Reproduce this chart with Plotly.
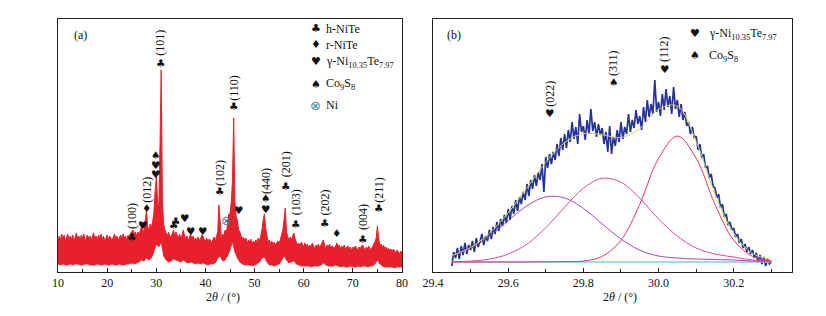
import plotly.graph_objects as go

# ---------------- Panel (a): XRD pattern 10-80 deg ----------------
a_start, a_step_u, a_step_l = 10.0, 0.25, 0.5
# upper edge of the noisy red trace (px-like intensity units, 0..253)
a_upper = [
    30, 36, 32, 38, 33, 37, 31, 35, 38, 32, 36, 33, 37, 31, 35, 39,
    33, 36, 32, 37, 34, 38, 31, 35, 37, 33, 36, 32, 35, 39, 33, 36,
    32, 37, 34, 38, 33, 36, 31, 35, 37, 32, 36, 34, 31, 35, 38, 33,
    36, 32, 35, 37, 33, 38, 34, 36, 32, 37, 35, 39, 40, 42, 38, 40,
    36, 40, 37, 41, 46, 40, 42, 50, 62, 45, 42, 48, 44, 50, 58, 80,
    95, 72, 62, 125, 202, 70, 48, 42, 38, 36, 40, 35, 36, 38, 42, 36,
    40, 37, 34, 38, 33, 37, 42, 36, 33, 36, 31, 35, 38, 33, 36, 32,
    34, 31, 35, 32, 33, 37, 36, 32, 31, 34, 30, 33, 32, 29, 33, 35,
    31, 36, 40, 67, 45, 33, 38, 36, 42, 38, 48, 58, 58, 70, 90, 154,
    70, 55, 52, 42, 40, 36, 33, 35, 31, 34, 29, 32, 30, 33, 28, 31,
    29, 32, 30, 34, 31, 36, 42, 52, 58, 44, 34, 30, 32, 28, 31, 27,
    30, 27, 29, 31, 28, 33, 36, 42, 52, 64, 40, 34, 31, 35, 32, 36,
    39, 33, 30, 27, 29, 26, 30, 27, 25, 29, 26, 28, 24, 27, 25, 29,
    26, 23, 27, 25, 28, 24, 27, 30, 32, 26, 24, 27, 25, 28, 24, 26,
    25, 24, 26, 29, 25, 27, 23, 26, 24, 27, 23, 25, 26, 23, 25, 22,
    25, 23, 26, 24, 22, 25, 23, 26, 27, 24, 22, 25, 23, 26, 22, 24,
    25, 28, 30, 34, 46, 33, 26, 28, 24, 27, 23, 25, 22, 24, 21, 23,
    20, 23, 21, 19, 22, 20, 18, 21, 19,
]
# lower edge of the noisy red trace
a_lower = [
    8, 7, 8, 7, 7, 8, 7, 8, 8, 7, 7, 8, 8, 7, 7, 7, 8, 7, 7, 8,
    7, 7, 8, 7, 7, 8, 7, 7, 8, 8, 9, 8, 9, 10, 12, 11, 14, 12, 14, 20,
    28, 25, 30, 16, 12, 10, 11, 13, 12, 11, 10, 12, 10, 9, 10, 9, 8, 9, 8, 9,
    8, 7, 8, 8, 9, 14, 16, 11, 12, 16, 22, 30, 20, 14, 10, 8, 7, 7, 7, 6,
    7, 8, 10, 14, 15, 10, 7, 7, 6, 7, 8, 12, 16, 12, 9, 10, 11, 8, 7, 6,
    6, 6, 6, 5, 6, 6, 6, 7, 9, 7, 6, 6, 6, 7, 6, 5, 6, 5, 5, 6,
    5, 5, 6, 5, 6, 6, 5, 6, 6, 8, 12, 8, 6, 5, 5, 5, 5, 4, 5, 5, 5,
]
a_x_upper = [round(a_start + a_step_u * i, 2) for i in range(len(a_upper))]
a_x_lower = [round(a_start + a_step_l * i, 2) for i in range(len(a_lower))]

# hkl labels (rotated) for panel (a)
a_lab_x = [25.04, 27.96, 30.8, 42.86, 45.65, 52.24, 56.33, 58.37, 64.15, 71.97, 75.17]
a_lab_y = [56, 82.5, 229.5, 99.5, 184.5, 90.5, 107.5, 69.5, 69.5, 54.5, 82.5]
a_lab_t = ["(100)", "(012)", "(101)", "(102)", "(110)", "(440)", "(201)", "(103)", "(202)", "(004)", "(211)"]
# phase symbols for panel (a)
a_sym_x = [25.04, 27.96, 27.2, 29.86, 29.9, 29.75, 30.9, 33.5, 34.0, 35.75, 36.9, 39.5,
           42.86, 44.3, 46.8, 45.65, 52.24, 52.2, 56.33, 58.37, 64.15, 66.7, 71.97, 75.17]
a_sym_y = [35, 64, 47, 117, 107, 98, 209, 47, 51, 54, 41, 41,
           81, 52, 62, 166, 74, 63, 86, 48, 49, 39, 33, 64]
a_sym_c = ["♣", "♦", "♥", "♠", "♥", "♥", "♣", "♣", "♣", "♥", "♥", "♥",
           "♣", "⊗", "♥", "♣", "♠", "♥", "♣", "♣", "♣", "♦", "♣", "♣"]

a_leg_sym = ["♣", "♦", "♥", "♠", "⊗"]
a_leg_txt = ["h-NiTe", "r-NiTe", "γ-Ni<sub>10.35</sub>Te<sub>7.97</sub>", "Co<sub>9</sub>S<sub>8</sub>", "Ni"]
a_leg_y = [243, 227, 210, 188, 167]

# ---------------- Panel (b): 29.4-30.35 deg fit ----------------
b_start, b_step = 29.45, 0.005
b_data = [
    6, 20, 14, 24, 13, 26, 17, 29, 18, 27,
    22, 31, 20, 34, 25, 30, 38, 27, 36, 31,
    42, 33, 45, 38, 50, 41, 53, 46, 57, 49,
    63, 52, 66, 58, 72, 61, 75, 68, 80, 72,
    88, 76, 92, 83, 97, 86, 100, 92, 108, 80,
    115, 104, 118, 108, 120, 112, 128, 116, 134, 122,
    138, 124, 142, 130, 150, 133, 145, 128, 158, 140,
    146, 132, 152, 138, 163, 141, 150, 135, 148, 137,
    144, 128, 140, 120, 146, 118, 135, 126, 142, 130,
    150, 133, 145, 138, 158, 140, 152, 144, 162, 148,
    156, 142, 165, 150, 172, 155, 168, 158, 192, 160,
    170, 156, 178, 162, 183, 165, 176, 158, 185, 163,
    172, 155, 168, 152, 160, 146, 150, 138, 145, 134,
    136, 122, 128, 114, 118, 104, 106, 94, 98, 86,
    84, 74, 78, 64, 68, 55, 58, 47, 50, 42,
    44, 35, 38, 29, 33, 24, 28, 20, 25, 18,
    22, 14, 19, 10, 17, 8, 15, 6, 13, 8,
    10,
]
b_x_data = [round(b_start + b_step * i, 3) for i in range(len(b_data))]

b_x_fit = [29.45, 29.50, 29.55, 29.60, 29.65, 29.70, 29.75, 29.80, 29.85,
           29.90, 29.95, 30.00, 30.05, 30.10, 30.15, 30.20, 30.25, 30.30]
b_baseline = [10, 10, 10, 10, 10, 10, 10, 10, 10, 10, 10, 10, 10, 10, 10, 10, 10, 10]
b_peak1 = [6.2, 13.7, 25.8, 41.3, 56.3, 65.1, 64.1, 53.6, 38.1, 23.0, 11.8, 6, 4, 3, 2.5, 2, 1, 0.5]
b_peak2 = [0.2, 0.9, 2.9, 7.9, 17.9, 34.2, 54.8, 73.8, 83.7, 79.7, 63.8, 43, 26, 14, 8, 5, 2, 1]
b_peak3 = [0, 0, 0, 0, 0, 0.2, 0.4, 1, 5.5, 21.7, 57.7, 103.7, 126, 103.7, 57.7, 21.7, 5.5, 1]

b_lab_x = [29.709, 29.88, 30.016]
b_lab_y = [178.5, 209.5, 222.5]
b_lab_t = ["(022)", "(311)", "(112)"]
b_sym_x = [29.709, 29.88, 30.016]
b_sym_y = [159, 190, 203]
b_sym_c = ["♥", "♠", "♥"]
b_leg_sym = ["♥", "♠"]
b_leg_txt = ["γ-Ni<sub>10.35</sub>Te<sub>7.97</sub>", "Co<sub>9</sub>S<sub>8</sub>"]
b_leg_y = [238, 216]

# ---------------- Figure ----------------
RED = "#e8202c"
SERIF = "Liberation Serif, Times New Roman, serif"
SYMF = "DejaVu Sans"
NI_COLOR = "#3a7f98"
W, H, OFF = 818, 308, 8   # page body margin of 8 px is compensated

fig = go.Figure()
fig.add_trace(go.Scatter(x=a_x_lower, y=a_lower, mode="lines",
                         line=dict(color=RED, width=0.8), xaxis="x", yaxis="y",
                         hoverinfo="skip", showlegend=False))
fig.add_trace(go.Scatter(x=a_x_upper, y=a_upper, mode="lines", fill="tonexty",
                         fillcolor=RED, line=dict(color=RED, width=1),
                         xaxis="x", yaxis="y", showlegend=False))

fit_sum = [b + p1 + p2 + p3 for b, p1, p2, p3 in zip(b_baseline, b_peak1, b_peak2, b_peak3)]
comp1 = [b + p for b, p in zip(b_baseline, b_peak1)]
comp2 = [b + p for b, p in zip(b_baseline, b_peak2)]
comp3 = [b + p for b, p in zip(b_baseline, b_peak3)]

fig.add_trace(go.Scatter(x=b_x_data, y=b_data, mode="lines",
                         line=dict(color="#25339a", width=1.7),
                         xaxis="x2", yaxis="y2", showlegend=False))
fig.add_trace(go.Scatter(x=b_x_fit, y=b_baseline, mode="lines",
                         line=dict(color="#7fcdee", width=1.6),
                         xaxis="x2", yaxis="y2", showlegend=False))
fig.add_trace(go.Scatter(x=b_x_fit, y=comp1, mode="lines", line_shape="spline",
                         line=dict(color="#a04ab0", width=1),
                         xaxis="x2", yaxis="y2", showlegend=False))
fig.add_trace(go.Scatter(x=b_x_fit, y=comp2, mode="lines", line_shape="spline",
                         line=dict(color="#e0489c", width=1),
                         xaxis="x2", yaxis="y2", showlegend=False))
fig.add_trace(go.Scatter(x=b_x_fit, y=comp3, mode="lines", line_shape="spline",
                         line=dict(color="#ea3468", width=1),
                         xaxis="x2", yaxis="y2", showlegend=False))
fig.add_trace(go.Scatter(x=b_x_fit, y=fit_sum, mode="lines", line_shape="spline",
                         line=dict(color="#d6d650", width=1),
                         xaxis="x2", yaxis="y2", showlegend=False))

ann = []
def txt(x, y, t, xref, yref, size=12, angle=0, family=SERIF, color="#111", xanchor="center"):
    ann.append(dict(x=x, y=y, text=t, xref=xref, yref=yref, showarrow=False,
                    textangle=angle, xanchor=xanchor, yanchor="middle",
                    font=dict(family=family, size=size, color=color)))

for x, y, t in zip(a_lab_x, a_lab_y, a_lab_t):
    txt(x, y, t, "x", "y", angle=-90)
for x, y, c in zip(a_sym_x, a_sym_y, a_sym_c):
    if c == "⊗":
        txt(x, y, c, "x", "y", size=13, family=SYMF, color=NI_COLOR)
    else:
        txt(x, y, c, "x", "y", size=10.5, family=SYMF)
for s, t, y in zip(a_leg_sym, a_leg_txt, a_leg_y):
    if s == "⊗":
        txt(62.45, y, s, "x", "y", size=13, family=SYMF, color=NI_COLOR)
    else:
        txt(62.45, y, s, "x", "y", size=11, family=SYMF)
    txt(64.1, y, t, "x", "y", xanchor="left")
txt(14.5, 237, "(a)", "x", "y")

for x, y, t in zip(b_lab_x, b_lab_y, b_lab_t):
    txt(x, y, t, "x2", "y2", angle=-90)
for x, y, c in zip(b_sym_x, b_sym_y, b_sym_c):
    txt(x, y, c, "x2", "y2", size=10.5, family=SYMF)
for s, t, y in zip(b_leg_sym, b_leg_txt, b_leg_y):
    txt(30.096, y, s, "x2", "y2", size=11, family=SYMF)
    txt(30.128, y, t, "x2", "y2", xanchor="left")
txt(29.456, 237, "(b)", "x2", "y2")

# axis titles placed in paper space (page px 223 / 620, y 297)
txt((223 - OFF) / W, (H - (297 - OFF)) / H, "2<i>θ</i> / (°)", "paper", "paper")
txt((620 - OFF) / W, (H - (297 - OFF)) / H, "2<i>θ</i> / (°)", "paper", "paper")

axis_common = dict(showline=True, mirror=True, linecolor="#222", linewidth=1,
                   showgrid=False, zeroline=False, automargin=False)
ydom = [(H - (272 - OFF)) / H, (H - (19 - OFF)) / H]
fig.update_layout(
    width=W, height=H, autosize=False,
    margin=dict(l=0, r=0, t=0, b=0, pad=0, autoexpand=False),
    paper_bgcolor="white", plot_bgcolor="white",
    font=dict(family=SERIF, size=12, color="#111"),
    xaxis=dict(domain=[(58 - OFF) / W, (402 - OFF) / W], range=[10, 80], dtick=10, tick0=10,
               ticks="inside", ticklen=4, tickcolor="#222",
               minor=dict(dtick=5, ticks="inside", ticklen=3, tickcolor="#222"),
               tickfont=dict(size=12, family=SERIF),
               anchor="y", **axis_common),
    yaxis=dict(domain=ydom, range=[0, 253], showticklabels=False, ticks="",
               anchor="x", **axis_common),
    xaxis2=dict(domain=[(433 - OFF) / W, (792 - OFF) / W], range=[29.4, 30.355], dtick=0.2, tick0=29.4,
                tickformat=".1f", ticks="inside", ticklen=4, tickcolor="#222",
                minor=dict(dtick=0.1, ticks="inside", ticklen=3, tickcolor="#222"),
                tickfont=dict(size=12, family=SERIF),
                anchor="y2", **axis_common),
    yaxis2=dict(domain=ydom, range=[0, 253], showticklabels=False, ticks="",
                anchor="x2", **axis_common),
    annotations=ann,
)

fig.write_html("out.html")
